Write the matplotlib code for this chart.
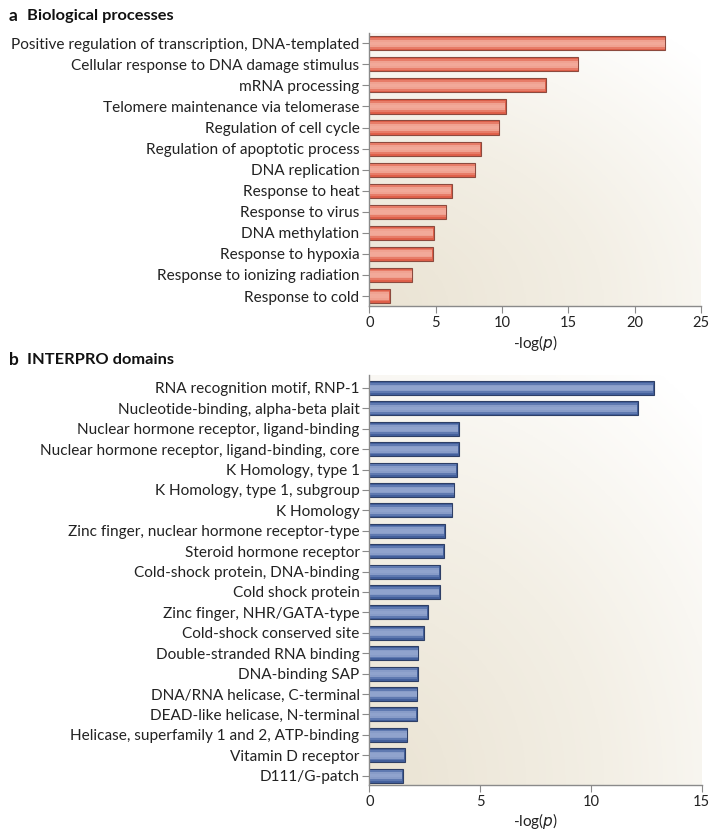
import numpy as np
import matplotlib
matplotlib.use("Agg")
import matplotlib.pyplot as plt
from matplotlib.colors import LinearSegmentedColormap

plt.rcParams['font.family'] = ['Lato', 'DejaVu Sans']

bp_terms = [
    "Positive regulation of transcription, DNA-templated",
    "Cellular response to DNA damage stimulus",
    "mRNA processing",
    "Telomere maintenance via telomerase",
    "Regulation of cell cycle",
    "Regulation of apoptotic process",
    "DNA replication",
    "Response to heat",
    "Response to virus",
    "DNA methylation",
    "Response to hypoxia",
    "Response to ionizing radiation",
    "Response to cold",
]
bp_values = [22.3, 15.75, 13.3, 10.3, 9.8, 8.4, 8.0, 6.2, 5.8, 4.85, 4.8, 3.25, 1.55]

ip_terms = [
    "RNA recognition motif, RNP-1",
    "Nucleotide-binding, alpha-beta plait",
    "Nuclear hormone receptor, ligand-binding",
    "Nuclear hormone receptor, ligand-binding, core",
    "K Homology, type 1",
    "K Homology, type 1, subgroup",
    "K Homology",
    "Zinc finger, nuclear hormone receptor-type",
    "Steroid hormone receptor",
    "Cold-shock protein, DNA-binding",
    "Cold shock protein",
    "Zinc finger, NHR/GATA-type",
    "Cold-shock conserved site",
    "Double-stranded RNA binding",
    "DNA-binding SAP",
    "DNA/RNA helicase, C-terminal",
    "DEAD-like helicase, N-terminal",
    "Helicase, superfamily 1 and 2, ATP-binding",
    "Vitamin D receptor",
    "D111/G-patch",
]
ip_values = [12.83, 12.11, 4.03, 4.03, 3.94, 3.84, 3.75, 3.42, 3.37, 3.19, 3.19,
             2.63, 2.45, 2.21, 2.18, 2.17, 2.14, 1.71, 1.61, 1.52]

bp_ticks = [0, 5, 10, 15, 20, 25]
ip_ticks = [0, 5, 10, 15]

fig = plt.figure(figsize=(7.18, 8.35), dpi=100)

bg_cmap = LinearSegmentedColormap.from_list("bg", ["#EAE3D3", "#F3EFE5", "#FFFFFF"])


def background(ax):
    n = 300
    xx, yy = np.meshgrid(np.linspace(0, 1, n), np.linspace(0, 1, n))
    d = np.sqrt((xx / 1.05) ** 2 + (yy / 0.95) ** 2) / 1.35
    d = np.clip(d, 0, 1)
    ax.imshow(d, cmap=bg_cmap, origin="lower", extent=[0, 1, 0, 1],
              transform=ax.transAxes, aspect="auto", zorder=0,
              interpolation="bilinear")


def draw_panel(ax, terms, values, ticks, dark, mid, light, edge, h, ylim):
    background(ax)
    y = np.arange(len(terms))
    ax.barh(y, values, height=h, color=dark, edgecolor=edge, linewidth=0.8, zorder=2)
    layers = [(0.75, mid), (0.5, light), (0.25, light)]
    for frac, col in layers:
        ax.barh(y, np.array(values) - 0.004 * ticks[-1], left=0.002 * ticks[-1],
                height=h * frac, color=col, linewidth=0, zorder=3, alpha=0.8)
    ax.set_yticks(y)
    ax.set_yticklabels(terms, fontsize=11.1, color="#222222")
    ax.set_ylim(*ylim)
    ax.set_xlim(ticks[0], ticks[-1])
    ax.set_xticks(ticks)
    ax.set_xticklabels([str(t) for t in ticks], fontsize=10.5, color="#222222")
    ax.set_xlabel(r"-log($\it{p}$)", fontsize=11, color="#222222", labelpad=2)
    for s in ["top", "right"]:
        ax.spines[s].set_visible(False)
    for s in ["left", "bottom"]:
        ax.spines[s].set_color("#8a8a8a")
        ax.spines[s].set_linewidth(1.0)
    ax.tick_params(axis="both", direction="out", length=5, width=0.8,
                   color="#8a8a8a", pad=2)
    ax.set_facecolor("white")


ax1 = fig.add_axes([0.5144, 0.6335, 0.462, 0.3266])
draw_panel(ax1, bp_terms, bp_values, bp_ticks,
           "#E0604A", "#EA8470", "#F3AC9C", "#8C4A3E", 0.67, (12.475, -0.475))

ax2 = fig.add_axes([0.5144, 0.0599, 0.463, 0.4906])
draw_panel(ax2, ip_terms, ip_values, ip_ticks,
           "#44609C", "#6780B6", "#93A6CF", "#2E3F66", 0.68, (19.46, -0.62))

fig.text(0.012, 0.981, "a", fontsize=12.5, fontweight="bold", va="center", ha="left", color="#111111")
fig.text(0.038, 0.981, "Biological processes", fontsize=11.8, fontweight="bold", va="center", ha="left", color="#111111")
fig.text(0.012, 0.569, "b", fontsize=12.5, fontweight="bold", va="center", ha="left", color="#111111")
fig.text(0.038, 0.569, "INTERPRO domains", fontsize=11.8, fontweight="bold", va="center", ha="left", color="#111111")

fig.savefig("out.png", dpi=100, facecolor="white")
